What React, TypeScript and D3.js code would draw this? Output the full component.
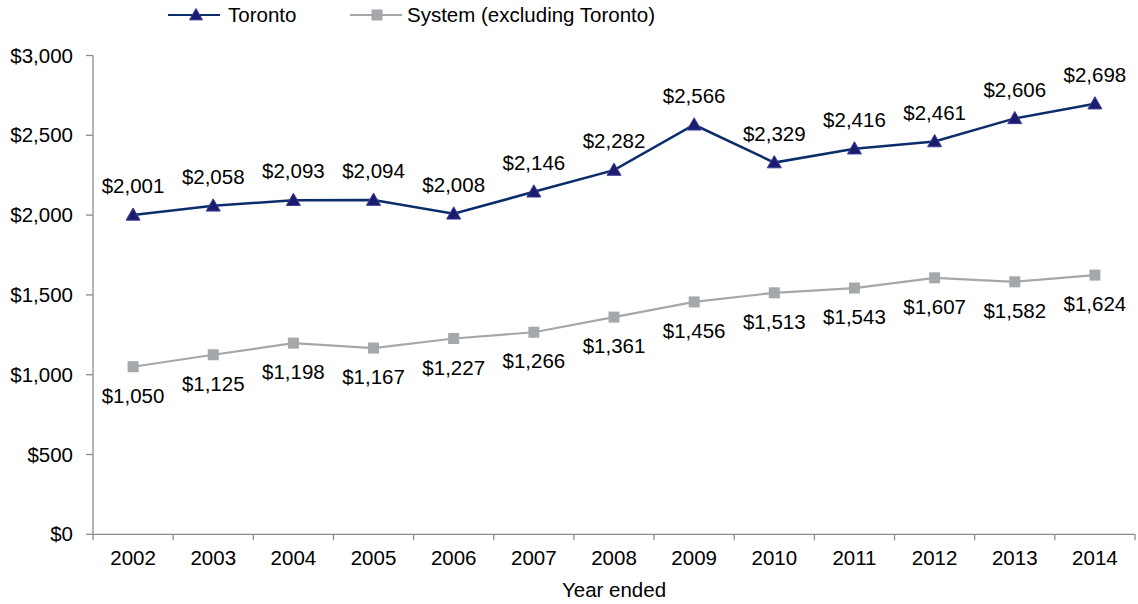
import React from "react";
import * as d3 from "d3";

const years = ["2002","2003","2004","2005","2006","2007","2008","2009","2010","2011","2012","2013","2014"];
const toronto = [2001,2058,2093,2094,2008,2146,2282,2566,2329,2416,2461,2606,2698];
const system = [1050,1125,1198,1167,1227,1266,1361,1456,1513,1543,1607,1582,1624];
const yTicks = [0,500,1000,1500,2000,2500,3000];

const W = 1138, H = 604;
const left = 93, right = 1135, top = 55.5, bottom = 534.3;
const FONT = "'Liberation Sans', Arial, sans-serif";
const FS = 20.5;
const torontoLine = "#0a2d6b";
const torontoFill = "#1c1c6e";
const torontoStroke = "#3d3d9e";
const systemColor = "#a4a8ab";
const axisColor = "#8c8c8c";

const fmt = (v: number) => "$" + d3.format(",")(v);

function Tri({ x, y, s = 7 }: { x: number; y: number; s?: number }) {
  const p = `${x},${y - s} ${x + s},${y + s * 0.75} ${x - s},${y + s * 0.75}`;
  return <polygon points={p} fill={torontoFill} stroke={torontoStroke} strokeWidth={1} />;
}
function Sq({ x, y, s = 5.5 }: { x: number; y: number; s?: number }) {
  return <rect x={x - s} y={y - s} width={2 * s} height={2 * s} fill={systemColor} />;
}

export default function App() {
  const x = d3.scaleBand<string>().domain(years).range([left, right]);
  const y = d3.scaleLinear().domain([0, 3000]).range([bottom, top]);
  const cx = (d: string) => (x(d) as number) + x.bandwidth() / 2;
  const line = d3.line<number>().x((_, i) => cx(years[i])).y((v) => y(v));

  return (
    <svg width={W} height={H} style={{ position: "absolute", left: 0, top: 0 }} fontFamily={FONT}>
      <rect width={W} height={H} fill="#fff" />
      {/* legend */}
      <line x1={168} x2={220} y1={15} y2={15} stroke={torontoLine} strokeWidth={2.2} />
      <Tri x={196} y={15} s={6.5} />
      <text x={228} y={15} dy="0.35em" fontSize={FS} fill="#000">Toronto</text>
      <line x1={350} x2={402} y1={15} y2={15} stroke={systemColor} strokeWidth={2.2} />
      <Sq x={377} y={15} s={5.5} />
      <text x={407} y={15} dy="0.35em" fontSize={FS} fill="#000">System (excluding Toronto)</text>

      {/* y axis */}
      <line x1={left} x2={left} y1={top} y2={bottom} stroke={axisColor} strokeWidth={1.3} />
      {yTicks.map((t) => (
        <g key={t}>
          <line x1={left - 7} x2={left} y1={y(t)} y2={y(t)} stroke={axisColor} strokeWidth={1.3} />
          <text x={73} y={y(t)} dy="0.35em" textAnchor="end" fontSize={FS} fill="#000">{fmt(t)}</text>
        </g>
      ))}
      {/* x axis */}
      <line x1={left} x2={right} y1={bottom} y2={bottom} stroke={axisColor} strokeWidth={1.3} />
      {years.map((yr, i) => (
        <g key={yr}>
          <line x1={(x(yr) as number)} x2={(x(yr) as number)} y1={bottom} y2={bottom + 6} stroke={axisColor} strokeWidth={1.3} />
          {i === years.length - 1 && (
            <line x1={right} x2={right} y1={bottom} y2={bottom + 6} stroke={axisColor} strokeWidth={1.3} />
          )}
          <text x={cx(yr)} y={bottom + 24} dy="0.35em" textAnchor="middle" fontSize={FS} fill="#000">{yr}</text>
        </g>
      ))}
      <text x={(left + right) / 2} y={590} dy="0.35em" textAnchor="middle" fontSize={FS} fill="#000">Year ended</text>

      {/* system */}
      <path d={line(system) || ""} fill="none" stroke={systemColor} strokeWidth={2.2} />
      {system.map((v, i) => (
        <g key={"s" + i}>
          <Sq x={cx(years[i])} y={y(v)} />
          <text x={cx(years[i])} y={y(v) + 29} dy="0.35em" textAnchor="middle" fontSize={FS} fill="#000">{fmt(v)}</text>
        </g>
      ))}
      {/* toronto */}
      <path d={line(toronto) || ""} fill="none" stroke={torontoLine} strokeWidth={2.5} />
      {toronto.map((v, i) => (
        <g key={"t" + i}>
          <Tri x={cx(years[i])} y={y(v)} />
          <text x={cx(years[i])} y={y(v) - 29} dy="0.35em" textAnchor="middle" fontSize={FS} fill="#000">{fmt(v)}</text>
        </g>
      ))}
    </svg>
  );
}
